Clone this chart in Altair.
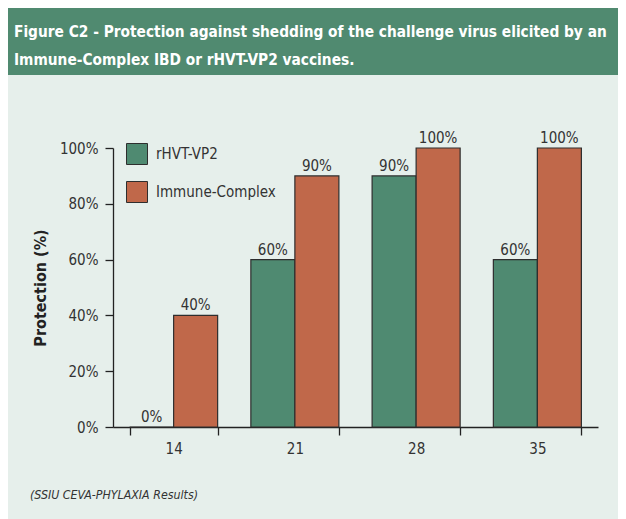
import altair as alt
import pandas as pd

# ---- data ----
days = ["14", "21", "28", "35"]
series_names = ["rHVT-VP2", "Immune-Complex"]
rhvt_values = [0, 60, 90, 60]
immune_values = [40, 90, 100, 100]
y_ticks = [0, 20, 40, 60, 80, 100]
header_lines = [
    "Figure C2 - Protection against shedding of the challenge virus elicited by an",
    "Immune-Complex IBD or rHVT-VP2 vaccines.",
]
footer_text = "(SSIU CEVA-PHYLAXIA Results)"
y_title = "Protection (%)"

colors = ["#4f8a71", "#c0684a"]
BG = "#e6efeb"
HEADER = "#508a70"
FONT = "DejaVu Sans Condensed, sans-serif"
TXT = "#333333"
LBL = 15

rows = []
for d, a, b in zip(days, rhvt_values, immune_values):
    rows.append({"day": d, "series": series_names[0], "value": a})
    rows.append({"day": d, "series": series_names[1], "value": b})
df = pd.DataFrame(rows)
df["label"] = df["value"].astype(str) + "%"

W, H = 485, 279

x_enc = alt.X("day:N", sort=days,
              scale=alt.Scale(paddingInner=0.274, paddingOuter=0.137),
              axis=alt.Axis(title=None, labelAngle=0, tickBand="extent",
                            labelPadding=6))
xoff = alt.XOffset("series:N", sort=series_names,
                   scale=alt.Scale(paddingInner=0, paddingOuter=0))
y_enc = alt.Y("value:Q", scale=alt.Scale(domain=[0, 100], nice=False),
              axis=alt.Axis(values=y_ticks, labelExpr="datum.value + '%'",
                            title=y_title, grid=False, labelPadding=7,
                            titleFont=FONT, titleFontSize=16, titleFontWeight="bold",
                            titleColor="#222", titleAngle=270, titleX=-73, titleY=H / 2,
                            titleAlign="center", titleBaseline="middle"))

bars = alt.Chart(df).mark_bar(stroke="#2e2e2e", strokeWidth=1.2).encode(
    x=x_enc, xOffset=xoff, y=y_enc,
    color=alt.Color("series:N", sort=series_names,
                    scale=alt.Scale(domain=series_names, range=colors),
                    legend=alt.Legend(title=None, orient="none", legendX=13, legendY=-5,
                                      symbolType="square", symbolSize=441,
                                      symbolStrokeColor="#2e2e2e", symbolStrokeWidth=1,
                                      symbolOpacity=1, labelFont=FONT,
                                      labelFontSize=LBL, labelColor=TXT,
                                      rowPadding=12, labelOffset=8, padding=0)),
)

labels = alt.Chart(df).mark_text(baseline="alphabetic", dy=-5, font=FONT,
                                 fontSize=LBL, color=TXT).encode(
    x=alt.X("day:N", sort=days), xOffset=xoff, y="value:Q", text="label:N"
)

deco = pd.DataFrame({"k": [0]})
band = alt.Chart(deco).mark_rect(color=HEADER).encode(
    x=alt.value(-105), x2=alt.value(505), y=alt.value(-140), y2=alt.value(-73)
)
header = alt.Chart(deco).mark_text(
    text=header_lines, align="left", baseline="alphabetic", lineHeight=28,
    font=FONT, fontSize=15.3, fontWeight="bold", color="white"
).encode(x=alt.value(-99), y=alt.value(-111))
footer = alt.Chart(deco).mark_text(
    text=footer_text, align="left", baseline="middle", font=FONT,
    fontSize=12.3, fontStyle="italic", color="#333"
).encode(x=alt.value(-83), y=alt.value(347))

chart = alt.layer(band, header, bars, labels, footer).properties(
    width=W, height=H,
    autosize=alt.AutoSizeParams(type="none"),
    padding={"left": 105, "top": 140, "right": 20, "bottom": 92},
    background=BG,
).configure_view(stroke=None).configure_axis(
    domainColor="#222", tickColor="#222", domainWidth=1.3, tickWidth=1.3,
    tickSize=8, labelFont=FONT, labelFontSize=LBL, labelColor=TXT,
)

chart.save("out.html", embed_options={"renderer": "svg", "actions": False})
